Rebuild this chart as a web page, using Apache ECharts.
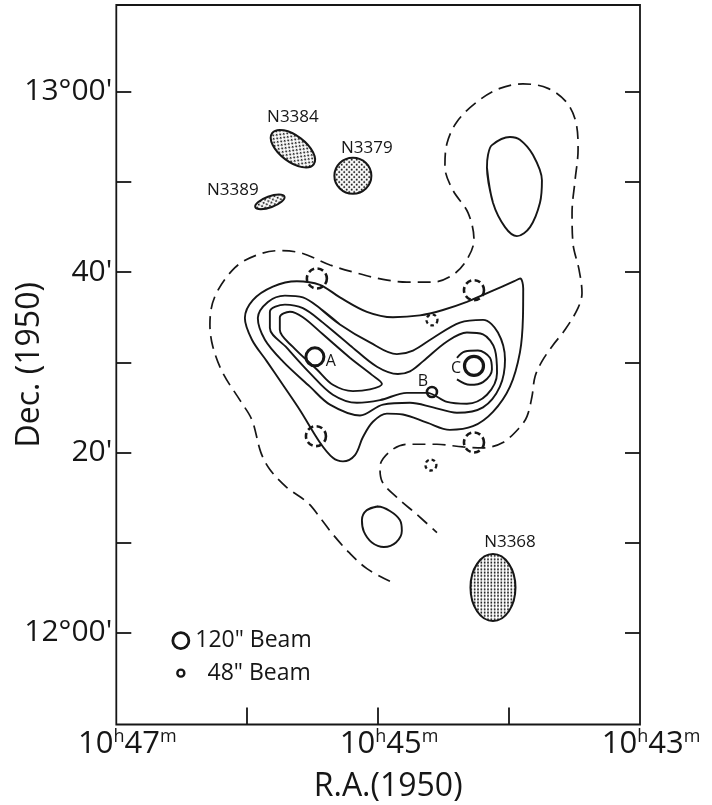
<!DOCTYPE html>
<html><head><meta charset="utf-8">
<style>html,body{margin:0;padding:0;background:#fff}#c{width:712px;height:805px}</style>
<script src="https://cdn.jsdelivr.net/npm/echarts@6/dist/echarts.min.js"></script>
</head><body><div id="c"></div>
<script>
// RA in minutes of time past 10h, Dec in arcminutes past 11 deg 00'
const raTicks = [47,46,45,44,43];
const decTicks = [720,730,740,750,760,770,780];
const decLabels = {720:"12°00'",740:"20'",760:"40'",780:"13°00'"};

const dashedOuter = [[44.910,725.7],[45.086,727.1],[45.223,728.9],[45.346,730.9],[45.430,732.5],[45.537,734.4],[45.697,736.1],[45.827,738.1],[45.896,740.0],[45.964,743.6],[46.056,745.8],[46.186,748.8],[46.262,751.7],[46.285,754.2],[46.247,757.3],[46.094,760.5],[45.926,761.9],[45.751,762.4],[45.582,762.1],[45.368,760.8],[45.162,759.9],[44.963,759.2],[44.780,758.9],[44.581,758.9],[44.429,759.7],[44.322,761.4],[44.268,763.6],[44.314,766.6],[44.429,769.1],[44.490,771.7],[44.474,774.3],[44.398,776.7],[44.245,778.9],[44.070,780.4],[43.894,780.9],[43.703,780.4],[43.558,778.8],[43.489,776.6],[43.473,773.6],[43.496,770.2],[43.519,766.6],[43.512,763.2],[43.466,760.3],[43.443,757.7],[43.474,756.0],[43.573,753.6],[43.665,751.9],[43.749,750.1],[43.802,748.4],[43.825,746.2],[43.863,744.0],[43.917,742.8],[44.047,741.1],[44.199,740.5],[44.352,740.6],[44.551,740.9],[44.780,740.9],[44.910,740.1],[44.986,738.4],[44.971,736.8],[44.857,735.0],[44.704,733.1],[44.551,731.1]];
const contourOuter = [[44.146,757.8],[44.322,756.7],[44.505,755.8],[44.681,755.2],[44.887,755.0],[45.086,755.6],[45.292,757.2],[45.445,758.6],[45.621,759.0],[45.804,758.4],[45.957,756.9],[46.018,754.9],[45.964,752.5],[45.850,750.1],[45.728,747.5],[45.598,744.7],[45.445,741.1],[45.346,739.4],[45.269,739.0],[45.177,739.7],[45.116,741.7],[45.040,743.4],[44.933,744.3],[44.811,744.2],[44.627,743.3],[44.452,742.5],[44.276,742.9],[44.123,744.5],[43.993,747.3],[43.917,751.1],[43.894,755.0],[43.892,758.2],[43.915,759.3],[43.960,759.0],[44.146,757.8]];
const contourMid = [[45.292,754.2],[45.445,756.0],[45.575,757.2],[45.712,757.4],[45.842,756.7],[45.919,754.9],[45.865,752.5],[45.728,750.1],[45.521,747.3],[45.368,745.3],[45.139,744.1],[44.963,745.3],[44.757,745.5],[44.581,745.0],[44.398,744.4],[44.199,745.0],[44.070,747.3],[44.031,750.3],[44.085,753.3],[44.199,754.7],[44.375,754.4],[44.581,752.7],[44.734,751.3],[44.857,750.9],[45.063,752.2],[45.292,754.2]];
const contourInner = [[45.216,751.9],[45.422,754.4],[45.575,756.0],[45.712,756.4],[45.827,755.6],[45.827,753.8],[45.697,751.6],[45.521,748.8],[45.346,746.4],[45.162,745.5],[44.986,745.8],[44.780,746.6],[44.627,746.6],[44.474,745.6],[44.322,745.4],[44.169,746.4],[44.092,748.8],[44.108,751.4],[44.199,753.1],[44.322,753.3],[44.474,752.3],[44.658,750.1],[44.757,749.0],[44.849,748.7],[45.009,749.5],[45.216,751.9]];
const contourPeakA = [[45.216,750.5],[45.422,753.1],[45.575,755.0],[45.674,755.6],[45.751,755.0],[45.751,753.6],[45.651,751.7],[45.468,749.2],[45.346,747.5],[45.193,746.8],[45.063,747.0],[44.971,747.6],[45.048,748.6],[45.216,750.5]];
const contourPeakC = [[44.398,748.1],[44.299,747.5],[44.199,747.8],[44.131,749.2],[44.146,750.5],[44.238,751.3],[44.337,751.2],[44.398,750.5]];
const contourNorth = [[44.169,771.6],[44.123,767.7],[44.031,765.0],[43.940,764.0],[43.840,765.0],[43.764,767.7],[43.749,770.2],[43.817,773.0],[43.917,774.7],[43.993,775.0],[44.131,774.1],[44.161,773.0],[44.169,771.6]];
const contourSouth = [[45.002,734.0],[45.086,733.6],[45.124,732.5],[45.109,731.2],[45.048,730.0],[44.956,729.5],[44.864,730.0],[44.819,731.3],[44.834,732.5],[44.910,733.5],[45.002,734.0]];

const galaxyNames = ['N3384','N3379','N3389','N3368'];
const galaxyPos = [[45.651,773.7],[45.193,770.7],[45.827,767.8],[44.123,725.0]];
const beamNames = ['A','C','B'];
const beamPos = [[45.483,750.6],[44.268,749.6],[44.589,746.7]];
const weakLarge = [[45.468,759.3],[44.268,758.0],[45.475,741.8],[44.268,741.1]];
const weakSmall = [[44.589,754.7],[44.597,738.6]];
const keyPos = [[46.507,719.1],[46.507,715.5]];
const keyText = ['120" Beam','48" Beam'];

const FONT = '"Open Sans", sans-serif';
const INK = '#161616';

function stipple(size, n, staggered, r) {
  const c = document.createElement('canvas');
  c.width = c.height = size;
  const g = c.getContext('2d');
  g.fillStyle = '#fff'; g.fillRect(0,0,size,size);
  g.fillStyle = '#111';
  const s = size/n;
  for (let i=0;i<n;i++) for (let j=0;j<n;j++) {
    if (staggered && (i+j)%2) continue;
    g.beginPath(); g.arc((i+.5)*s,(j+.5)*s,r,0,7); g.fill();
  }
  return {image:c, repeat:'repeat'};
}
const contour = (d, dashed) => ({
  type:'line', data:d, smooth:0.34, showSymbol:false, symbol:'none', silent:true, clip:false,
  lineStyle:{color:INK, width:dashed?1.7:1.9, type:dashed?[13,7]:'solid'}
});
// A closed contour ends on its first point; carrying on to the second keeps the join round.
const closed = d => contour([...d, d[1]]);
const rings = (d, size, width, dashed) => ({
  type:'scatter', data:d, symbol:'circle', symbolSize:size, silent:true,
  itemStyle:{color:'rgba(0,0,0,0)', borderColor:INK, borderWidth:width, borderType:dashed||'solid', opacity:1}
});
const patternDiag = stipple(10,4,true,1.0), patternGrid = stipple(10,3,false,1.0);
const galaxyStyle = [
  {rx:26,ry:13,rot:-37,off:[0,-32],fill:patternDiag},
  {rx:18.5,ry:18,rot:0,off:[14,-28],fill:patternDiag},
  {rx:15.5,ry:5.5,rot:20,off:[-37,-12],fill:patternDiag},
  {rx:22.5,ry:33.5,rot:0,off:[17,-45],fill:patternGrid}
];
const galaxies = {
  type:'custom', coordinateSystem:'cartesian2d', silent:true, clip:false,
  encode:{x:0,y:1},
  data:galaxyPos.map((p,i)=>({name:galaxyNames[i], value:p})),
  renderItem:(params,api)=>{
    const i = params.dataIndex, st = galaxyStyle[i];
    const c = api.coord([api.value(0),api.value(1)]);
    return {type:'group', children:[
      {type:'ellipse', x:c[0], y:c[1], rotation:st.rot*Math.PI/180,
       shape:{cx:0,cy:0,rx:st.rx,ry:st.ry},
       style:{fill:st.fill, stroke:INK, lineWidth:2}},
      {type:'text', x:c[0]+st.off[0], y:c[1]+st.off[1],
       style:{text:galaxyNames[i], x:0, y:0, align:'center', verticalAlign:'middle', font:'17px '+FONT, fill:INK}}
    ]};
  }
};
const beamStyle = [{size:18,off:[16,5],bw:3},{size:19,off:[-18,3],bw:3.2},{size:10,off:[-9,-11],bw:2.6}];
const beams = {
  type:'scatter', symbol:'circle', silent:true,
  data:beamPos.map((p,i)=>({
    name:beamNames[i], value:p, symbolSize:beamStyle[i].size,
    itemStyle:{borderWidth:beamStyle[i].bw},
    label:{show:true, formatter:'{b}', position:'inside', offset:beamStyle[i].off, fontFamily:FONT, fontSize:16, color:INK}
  })),
  itemStyle:{color:'rgba(0,0,0,0)', borderColor:INK, opacity:1}
};
const key = {
  type:'scatter', symbol:'circle', silent:true,
  data:keyPos.map((p,i)=>({
    name:keyText[i], value:p, symbolSize:i?7:16,
    itemStyle:{borderWidth:i?2.4:2.8},
    label:{show:true, formatter:'{b}', position:'right', distance:i?22:5, fontFamily:FONT, fontSize:23, color:INK}
  })),
  itemStyle:{color:'rgba(0,0,0,0)', borderColor:INK, opacity:1}
};

const L = 116.3, R = 640, T = 5, B = 724.5;
const axisName = {fontFamily:FONT, fontSize:32, color:INK};
const decAxis = (pos, show) => ({
  type:'value', position:pos, min:709.8, max:789.65, scale:true,
  splitLine:{show:false}, axisLine:{show:false},
  axisTick:{show:true, inside:true, length:15, lineStyle:{color:INK,width:1.8}, customValues:decTicks},
  axisLabel:{show:show, customValues:Object.keys(decLabels).map(Number), margin:4,
    formatter:v=>decLabels[v]||'', fontFamily:FONT, fontSize:30, color:INK, hideOverlap:false}
});
const option = {
  animation:false, backgroundColor:'#fff',
  grid:{left:L, top:T, width:R-L, height:B-T, outerBoundsMode:'none', containLabel:false, show:true, borderColor:INK, borderWidth:1.8, backgroundColor:'transparent'},
  xAxis:{type:'value', inverse:true, min:43, max:47, interval:1, position:'bottom',
    splitLine:{show:false}, axisLine:{show:false},
    axisTick:{show:true, inside:true, length:17, lineStyle:{color:INK,width:1.8}, customValues:raTicks.slice(1,4)},
    axisLabel:{show:true, margin:3, hideOverlap:false, showMinLabel:true, showMaxLabel:true,
      customValues:raTicks.filter((_,i)=>i%2===0),
      padding:[0,0,0,22],
      formatter:v=>`{a|10}{s|h}{a|${v}}{s|m}`,
      rich:{a:{fontFamily:FONT,fontSize:31,color:INK,lineHeight:34},s:{fontFamily:FONT,fontSize:18,color:INK,verticalAlign:'top',lineHeight:20}}},
    name:'R.A.(1950)', nameLocation:'middle', nameGap:46, nameTextStyle:Object.assign({padding:[0,0,0,20]},axisName)},
  yAxis:[
    Object.assign(decAxis('left',true),{name:'Dec. (1950)', nameLocation:'middle', nameRotate:90, nameGap:70, nameMoveOverlap:false, nameTextStyle:axisName}),
    decAxis('right',false)
  ],
  series:[
    contour(dashedOuter,true), closed(contourOuter), closed(contourMid), closed(contourInner),
    closed(contourPeakA), contour(contourPeakC), closed(contourNorth), closed(contourSouth),
    galaxies, beams,
    rings(weakLarge,20,2.6,[6,3.5]), rings(weakSmall,11,2.3,[3.5,3]),
    key
  ]
};
echarts.init(document.getElementById('c'),null,{renderer:'canvas'}).setOption(option);
</script></body></html>
